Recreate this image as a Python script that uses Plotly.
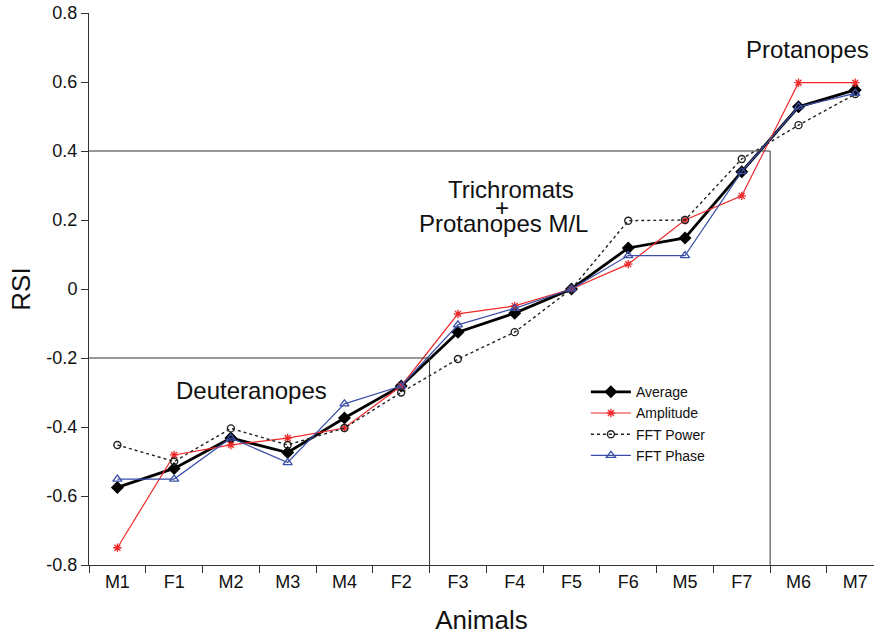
import plotly.graph_objects as go

animals = ["M1", "F1", "M2", "M3", "M4", "F2", "F3", "F4", "F5", "F6", "M5", "F7", "M6", "M7"]
average = [-0.575, -0.52, -0.432, -0.474, -0.374, -0.281, -0.125, -0.07, 0.0, 0.119, 0.148, 0.34, 0.528, 0.577]
amplitude = [-0.75, -0.481, -0.452, -0.432, -0.403, -0.281, -0.072, -0.049, 0.0, 0.072, 0.20, 0.27, 0.598, 0.598]
fft_power = [-0.452, -0.50, -0.404, -0.452, -0.403, -0.30, -0.203, -0.125, 0.0, 0.198, 0.20, 0.377, 0.475, 0.565]
fft_phase = [-0.551, -0.551, -0.432, -0.503, -0.333, -0.281, -0.104, -0.056, 0.0, 0.097, 0.097, 0.34, 0.528, 0.567]

y_ticks = [0.8, 0.6, 0.4, 0.2, 0, -0.2, -0.4, -0.6, -0.8]
y_tick_text = ["0.8", "0.6", "0.4", "0.2", "0", "-0.2", "-0.4", "-0.6", "-0.8"]

font = "Liberation Sans, Arial, sans-serif"
blue = "#3b4fa6"
red = "#f0282a"

fig = go.Figure()
fig.add_trace(go.Scatter(x=animals, y=average, name="Average", mode="lines+markers",
                         line=dict(color="black", width=2.8),
                         marker=dict(symbol="diamond", size=10, color="black")))
fig.add_trace(go.Scatter(x=animals, y=amplitude, name="Amplitude", mode="lines+markers",
                         line=dict(color=red, width=1.2),
                         marker=dict(symbol="asterisk-open", size=7, color=red,
                                     line=dict(color=red, width=1.3))))
fig.add_trace(go.Scatter(x=animals, y=fft_power, name="FFT Power", mode="lines+markers",
                         line=dict(color="#222222", width=1.4, dash="dot"),
                         marker=dict(symbol="circle-open", size=7, color="#222222",
                                     line=dict(width=1.4))))
fig.add_trace(go.Scatter(x=animals, y=fft_phase, name="FFT Phase", mode="lines+markers",
                         line=dict(color=blue, width=1.2),
                         marker=dict(symbol="triangle-up-open", size=8, color=blue,
                                     line=dict(width=1.3))))

line_col = "#333333"
# Group boundary lines
fig.add_shape(type="line", xref="x", yref="y", x0=-0.5, x1=5.5, y0=-0.2, y1=-0.2,
              line=dict(color=line_col, width=1))
fig.add_shape(type="line", xref="x", yref="y", x0=5.5, x1=5.5, y0=-0.2, y1=-0.8,
              line=dict(color=line_col, width=1))
fig.add_shape(type="line", xref="x", yref="y", x0=-0.5, x1=11.5, y0=0.4, y1=0.4,
              line=dict(color=line_col, width=1))
fig.add_shape(type="line", xref="x", yref="y", x0=11.5, x1=11.5, y0=0.4, y1=-0.8,
              line=dict(color=line_col, width=1))

ann_font = dict(family=font, size=24, color="#111111")
fig.add_annotation(x=2.36, y=-0.293, xref="x", yref="y", text="Deuteranopes",
                   showarrow=False, font=ann_font)
fig.add_annotation(x=6.93, y=0.287, xref="x", yref="y", text="Trichromats",
                   showarrow=False, font=ann_font)
fig.add_annotation(x=6.78, y=0.237, xref="x", yref="y", text="+",
                   showarrow=False, font=ann_font)
fig.add_annotation(x=6.81, y=0.19, xref="x", yref="y", text="Protanopes M/L",
                   showarrow=False, font=ann_font)
fig.add_annotation(x=12.16, y=0.695, xref="x", yref="y", text="Protanopes",
                   showarrow=False, font=ann_font)

fig.update_layout(
    width=874, height=638,
    margin=dict(l=89, r=0, t=13, b=73, autoexpand=False),
    paper_bgcolor="white", plot_bgcolor="white",
    font=dict(family=font, color="#111111"),
    showlegend=True,
    legend=dict(x=0.633, y=0.342, xanchor="left", yanchor="top",
                bgcolor="rgba(0,0,0,0)", font=dict(size=14, family=font),
                tracegroupgap=0, itemwidth=40),
)
fig.update_xaxes(type="category", range=[-0.5, 13.33], showgrid=False, automargin=False,
                 showline=True, linecolor=line_col, linewidth=1,
                 ticks="outside", tickson="boundaries", ticklen=7, tickcolor=line_col,
                 tickfont=dict(size=18, family=font),
                 title=dict(text="Animals", font=dict(size=26, family=font), standoff=20))
fig.update_yaxes(range=[-0.8, 0.8], showgrid=False, zeroline=False, automargin=False,
                 showline=True, linecolor=line_col, linewidth=1,
                 ticks="outside", ticklen=7, tickcolor=line_col,
                 tickvals=y_ticks, ticktext=y_tick_text, ticklabeloverflow="allow",
                 tickfont=dict(size=18, family=font),
                 title=dict(text="RSI", font=dict(size=26, family=font), standoff=8))

# Remove the default page margin so the figure fills the window exactly.
fig.write_html("out.html", config={"displayModeBar": False},
               post_script="document.body.style.margin='0';document.body.style.overflow='hidden';")
